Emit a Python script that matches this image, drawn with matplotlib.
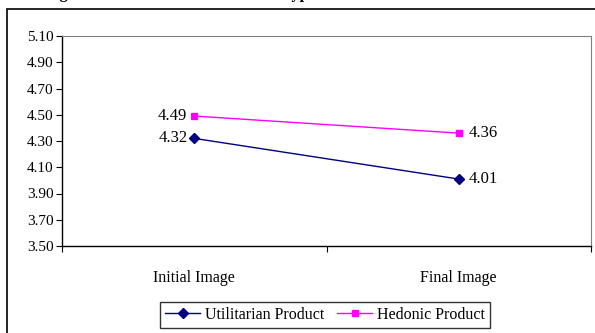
import matplotlib.pyplot as plt
import matplotlib.patches as patches
import numpy as np

plt.rcParams['font.family'] = ['Liberation Serif', 'DejaVu Serif']

categories = ['Initial Image', 'Final Image']
utilitarian = [4.32, 4.01]
hedonic = [4.49, 4.36]
y_ticks = [3.50, 3.70, 3.90, 4.10, 4.30, 4.50, 4.70, 4.90, 5.10]

W, H = 595, 333
fig = plt.figure(figsize=(W / 100, H / 100), dpi=100)

# outer chart frame (cut off at right and bottom)
fig.patches.append(patches.Rectangle((7 / W, -0.1), 1.2, 1.1 - 9 / H,
                                     transform=fig.transFigure, fill=False,
                                     edgecolor='black', linewidth=1.2))

# clipped title remnant at the top
fig.text(-12 / W, 1.0 + 2.5 / H, 'Mean Image Evaluation for Each Product Type',
         fontsize=11.7, fontweight='bold', ha='left', va='baseline')

ax = fig.add_axes([62 / W, 1 - 246 / H, (591 - 62) / W, (246 - 36) / H])
x = np.arange(len(categories))

ax.plot(x, utilitarian, color='#000080', marker='D', markersize=5.5, lw=1,
        label='Utilitarian Product')
ax.plot(x, hedonic, color='#FF00FF', marker='s', markersize=5, lw=1,
        label='Hedonic Product')

# data labels: left of first point, right of last point
for series in (utilitarian, hedonic):
    ax.annotate(f'{series[0]:.2f}', (x[0], series[0]), xytext=(-5, 0),
                textcoords='offset points', ha='right', va='center', fontsize=12)
    ax.annotate(f'{series[1]:.2f}', (x[1], series[1]), xytext=(7, 0),
                textcoords='offset points', ha='left', va='center', fontsize=12)

ax.set_xlim(-0.5, 1.5)
ax.set_ylim(3.5, 5.1)
ax.set_yticks(y_ticks)
ax.set_yticklabels([f'{v:.2f}' for v in y_ticks], fontsize=11)
ax.set_xticks([-0.5, 0.5, 1.5])
ax.set_xticklabels([])
ax.set_xticks(x, minor=True)
ax.set_xticklabels(categories, minor=True, fontsize=11.5)
ax.tick_params(axis='x', which='minor', length=0, pad=17)
ax.tick_params(axis='x', which='major', direction='out', length=4, width=0.8)
ax.tick_params(axis='y', direction='out', length=4, width=0.8, pad=2)

for side in ('top', 'right'):
    ax.spines[side].set_color('#808080')
    ax.spines[side].set_linewidth(0.8)
for side in ('left', 'bottom'):
    ax.spines[side].set_linewidth(1)

leg = fig.legend(loc='center', bbox_to_anchor=(325 / W, 1 - 315 / H), ncol=2,
                 fontsize=11.5, frameon=True, fancybox=False, edgecolor='black',
                 handlelength=2.2, handletextpad=0.3, columnspacing=0.8,
                 borderpad=0.3, borderaxespad=0)
leg.get_frame().set_linewidth(1)

fig.savefig('out.png', dpi=100)
